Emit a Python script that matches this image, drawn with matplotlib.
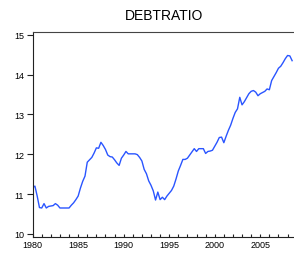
#!/usr/bin/env python

import matplotlib
matplotlib.use("Agg")
import matplotlib.pyplot as plt
from matplotlib.ticker import MultipleLocator
import numpy as np

# quarterly observations starting 1980Q1
start_year = 1980
debt_ratio = [
    11.16, 11.20, 10.95, 10.66,   # 1980
    10.65, 10.76, 10.65, 10.69,   # 1981
    10.70, 10.71, 10.76, 10.72,   # 1982
    10.65, 10.65, 10.65, 10.65,   # 1983
    10.65, 10.72, 10.78, 10.86,   # 1984
    10.95, 11.15, 11.32, 11.45,   # 1985
    11.80, 11.86, 11.92, 12.03,   # 1986
    12.16, 12.15, 12.30, 12.22,   # 1987
    12.12, 11.98, 11.94, 11.93,   # 1988
    11.86, 11.78, 11.72, 11.90,   # 1989
    11.98, 12.07, 12.01, 12.01,   # 1990
    12.01, 12.01, 11.99, 11.92,   # 1991
    11.83, 11.62, 11.51, 11.33,   # 1992
    11.22, 11.08, 10.85, 11.05,   # 1993
    10.86, 10.92, 10.86, 10.95,   # 1994
    11.02, 11.09, 11.20, 11.38,   # 1995
    11.58, 11.72, 11.87, 11.87,   # 1996
    11.90, 11.98, 12.06, 12.14,   # 1997
    12.07, 12.14, 12.14, 12.14,   # 1998
    12.02, 12.07, 12.08, 12.10,   # 1999
    12.20, 12.30, 12.42, 12.43,   # 2000
    12.29, 12.45, 12.60, 12.73,   # 2001
    12.90, 13.05, 13.14, 13.43,   # 2002
    13.24, 13.32, 13.42, 13.52,   # 2003
    13.58, 13.60, 13.56, 13.47,   # 2004
    13.52, 13.55, 13.58, 13.64,   # 2005
    13.62, 13.85, 13.95, 14.05,   # 2006
    14.16, 14.21, 14.30, 14.40,   # 2007
    14.48, 14.47, 14.35,          # 2008
]
year_labels = [1980, 1985, 1990, 1995, 2000, 2005]
y_ticks = [10, 11, 12, 13, 14, 15]


def main():
    plt.rcParams['font.family'] = ['Liberation Sans', 'DejaVu Sans']

    fig = plt.figure(figsize=(2.94, 2.55), dpi=100)
    ax = fig.add_axes([0.111, 0.068, 0.895, 0.801])

    t = start_year + np.arange(len(debt_ratio)) / 4.0
    ax.plot(t, debt_ratio, color='#2a55ff', lw=1.0)

    ax.set_xlim(1980, 2008.9)
    ax.set_ylim(9.93, 15.06)

    ax.set_xticks(year_labels)
    ax.set_xticklabels([str(y) for y in year_labels])
    ax.xaxis.set_minor_locator(MultipleLocator(1))
    ax.set_yticks(y_ticks)

    ax.tick_params(axis='x', which='both', direction='in', length=2.3,
                   width=0.8, labelsize=6.5, pad=2.5, color='#222222')
    ax.tick_params(axis='y', direction='out', length=4.3, width=0.8,
                   labelsize=6.5, pad=2, color='#222222')

    for side in ['left', 'bottom']:
        ax.spines[side].set_color('#222222')
        ax.spines[side].set_linewidth(0.8)
    ax.spines['top'].set_color('#444444')
    ax.spines['top'].set_linewidth(0.8)
    ax.spines['right'].set_visible(False)

    ax.set_title('DEBTRATIO', fontsize=10, pad=10)

    fig.savefig('out.png', dpi=100)


if __name__ == '__main__':
    main()
